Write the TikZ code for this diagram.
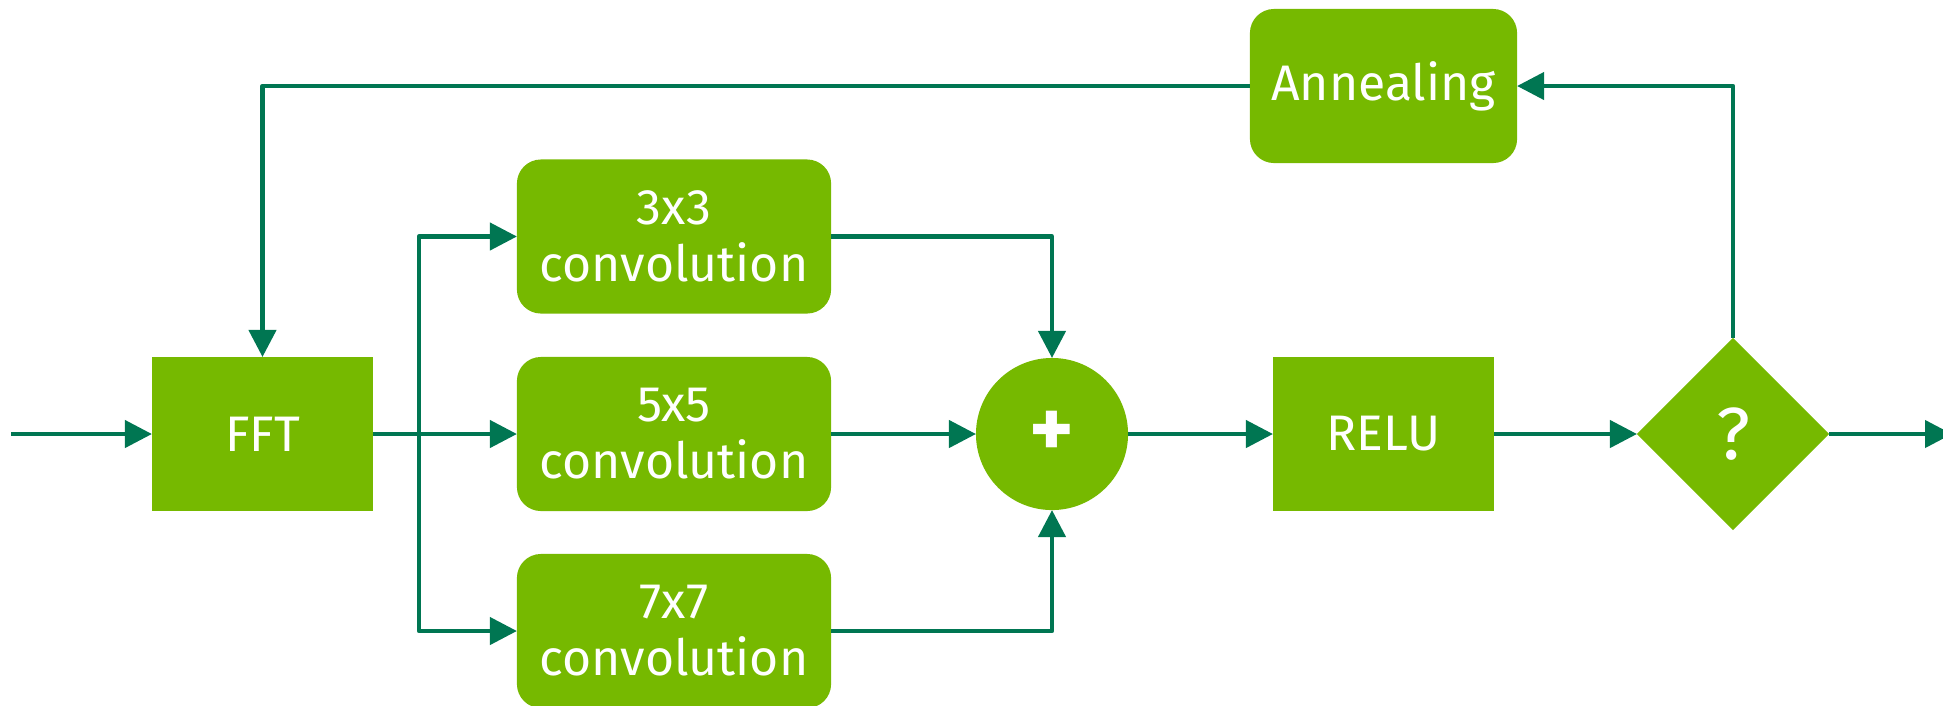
\documentclass[tikz,border=0pt]{standalone}
\usepackage{fontspec}
\setmainfont{Fira Sans}
\usetikzlibrary{arrows.meta,shapes.geometric}
\definecolor{nvgreen}{RGB}{118,185,0}
\definecolor{flow}{RGB}{0,118,82}
\begin{document}
\begin{tikzpicture}[x=0.01cm,y=-0.01cm,
  every node/.style={font=\fontsize{14.2pt}{16.2pt}\selectfont, text=white, inner sep=0pt, outer sep=0pt},
  block/.style={fill=nvgreen, minimum width=2.21cm, minimum height=1.54cm},
  roundblock/.style={fill=nvgreen, rounded corners=0.24cm, align=center, minimum height=1.54cm},
  sumnode/.style={circle, fill=nvgreen, minimum size=1.52cm, font=\fontsize{24pt}{24pt}\selectfont\bfseries},
  decision/.style={diamond, aspect=1, fill=nvgreen, minimum width=1.92cm, minimum height=1.92cm, font=\fontsize{21pt}{21pt}\selectfont},
  flowline/.style={draw=flow, line width=0.043cm, line join=round},
  flowarrow/.style={flowline, -{Triangle[length=0.27cm,width=0.27cm]}}]

\useasboundingbox (0,0) rectangle (1943,705);

% processing blocks
\node[block] (fft) at (262.5,434) {FFT};
\node[roundblock, minimum width=3.14cm] (c3) at (674,236.5) {3x3\\convolution};
\node[roundblock, minimum width=3.14cm] (c5) at (674,434) {5x5\\convolution};
\node[roundblock, minimum width=3.14cm] (c7) at (674,631) {7x7\\convolution};
\node[sumnode] (sum) at (1052,434) {\raisebox{-0.04cm}{+}};
\node[block] (relu) at (1383.5,434) {RELU};
\node[decision] (dec) at (1733,434) {?};
\node[roundblock, minimum width=2.67cm] (anneal) at (1383.5,86) {Annealing};

% free ends and the split point
\coordinate (in) at (11,434);
\coordinate (out) at (1952,434);
\coordinate (split) at (419,434);

% forward flow
\draw[flowarrow] (in) -- (fft.west);
\draw[flowarrow] (fft.east) -- (c5.west);
\draw[flowarrow] (split) |- (c3.west);
\draw[flowarrow] (split) |- (c7.west);
\draw[flowarrow] (c3.east) -| (sum.north);
\draw[flowarrow] (c5.east) -- (sum.west);
\draw[flowarrow] (c7.east) -| (sum.south);
\draw[flowarrow] (sum.east) -- (relu.west);
\draw[flowarrow] (relu.east) -- (dec.west);
\draw[flowarrow] (dec.east) -- (out);

% feedback loop
\draw[flowarrow] (dec.north) |- (anneal.east);
\draw[flowarrow] (anneal.west) -| (fft.north);
\end{tikzpicture}
\end{document}
